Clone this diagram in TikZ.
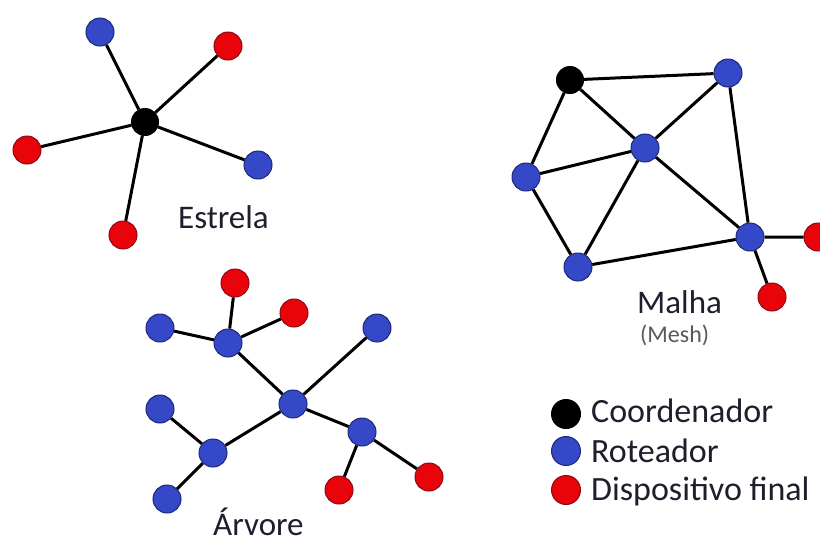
\documentclass[tikz,border=0pt]{standalone}
\usepackage{fontspec}
\setmainfont{Carlito}
\definecolor{roteador}{RGB}{52,72,200}
\definecolor{roteadorborda}{RGB}{30,40,120}
\definecolor{finalcor}{RGB}{232,4,10}
\definecolor{finalborda}{RGB}{140,10,20}
\definecolor{texto}{RGB}{30,30,45}
\begin{document}
\begin{tikzpicture}[x=1pt,y=-1pt,
    coord/.style={circle,fill=black,draw=black,line width=1pt,minimum size=27pt,inner sep=0pt},
    rot/.style={circle,fill=roteador,draw=roteadorborda,line width=1pt,minimum size=28pt,inner sep=0pt},
    fim/.style={circle,fill=finalcor,draw=finalborda,line width=1pt,minimum size=28pt,inner sep=0pt},
    lig/.style={line width=3pt,black},
    rotulo/.style={anchor=base west,inner sep=0pt,text=texto,font=\fontsize{33}{36}\selectfont}]
                \useasboundingbox[fill=white] (0,0) rectangle (820,542);
                % Estrela
                \node[coord] (ec) at (145,122) {};
                \node[rot] (e1) at (100,32) {};
                \node[fim] (e2) at (228,46) {};
                \node[fim] (e3) at (27,150) {};
                \node[rot] (e4) at (258,165) {};
                \node[fim] (e5) at (123,235) {};
                \draw[lig] (ec)--(e1) (ec)--(e2) (ec)--(e3) (ec)--(e4) (ec)--(e5);
                \node[rotulo] (lestrela) at (178,228) {Estrela};
                % Malha
                \node[coord] (mc) at (570,80) {};
                \node[rot] (m1) at (728,73) {};
                \node[rot] (m2) at (645,148) {};
                \node[rot] (m3) at (526,177) {};
                \node[rot] (m4) at (578,267) {};
                \node[rot] (m5) at (750,237) {};
                \node[fim] (m6) at (818,237) {};
                \node[fim] (m7) at (772,297) {};
                \draw[lig] (mc)--(m1) (mc)--(m2) (mc)--(m3) (m1)--(m2) (m1)--(m5)
                    (m2)--(m3) (m2)--(m4) (m2)--(m5) (m3)--(m4) (m4)--(m5)
                    (m5)--(m6) (m5)--(m7);
                \node[rotulo] (lmalha) at (637,313) {Malha};
                \node[rotulo,text=black!65,font=\fontsize{24}{26}\selectfont] (lmesh) at (640,342) {(Mesh)};
                % Arvore
                \node[rot] (a0) at (293,404) {};
                \node[rot] (a1) at (228,343) {};
                \node[fim] (a2) at (235,283) {};
                \node[fim] (a3) at (294,313) {};
                \node[rot] (a4) at (160,328) {};
                \node[rot] (a5) at (377,328) {};
                \node[rot] (a6) at (213,453) {};
                \node[rot] (a7) at (160,409) {};
                \node[rot] (a8) at (167,499) {};
                \node[rot] (a9) at (362,432) {};
                \node[fim] (a10) at (339,490) {};
                \node[fim] (a11) at (429,477) {};
                \draw[lig] (a1)--(a2) (a1)--(a3) (a1)--(a4) (a1)--(a0) (a0)--(a5)
                    (a0)--(a6) (a0)--(a9) (a6)--(a7) (a6)--(a8) (a9)--(a10) (a9)--(a11);
                \node[rotulo] (larvore) at (213,535) {Árvore};
                % Legenda
                \node[coord,minimum size=29pt] (lc) at (566,414) {};
                \node[rot,minimum size=29pt] (lr) at (566,451) {};
                \node[fim,minimum size=29pt] (lf) at (566,490) {};
                \node[rotulo,font=\fontsize{34}{36}\selectfont] at (591,422) {Coordenador};
                \node[rotulo,font=\fontsize{34}{36}\selectfont] at (591,462) {Roteador};
                \node[rotulo,font=\fontsize{34}{36}\selectfont] at (591,500) {Dispositivo final};
            \end{tikzpicture}
\end{document}
